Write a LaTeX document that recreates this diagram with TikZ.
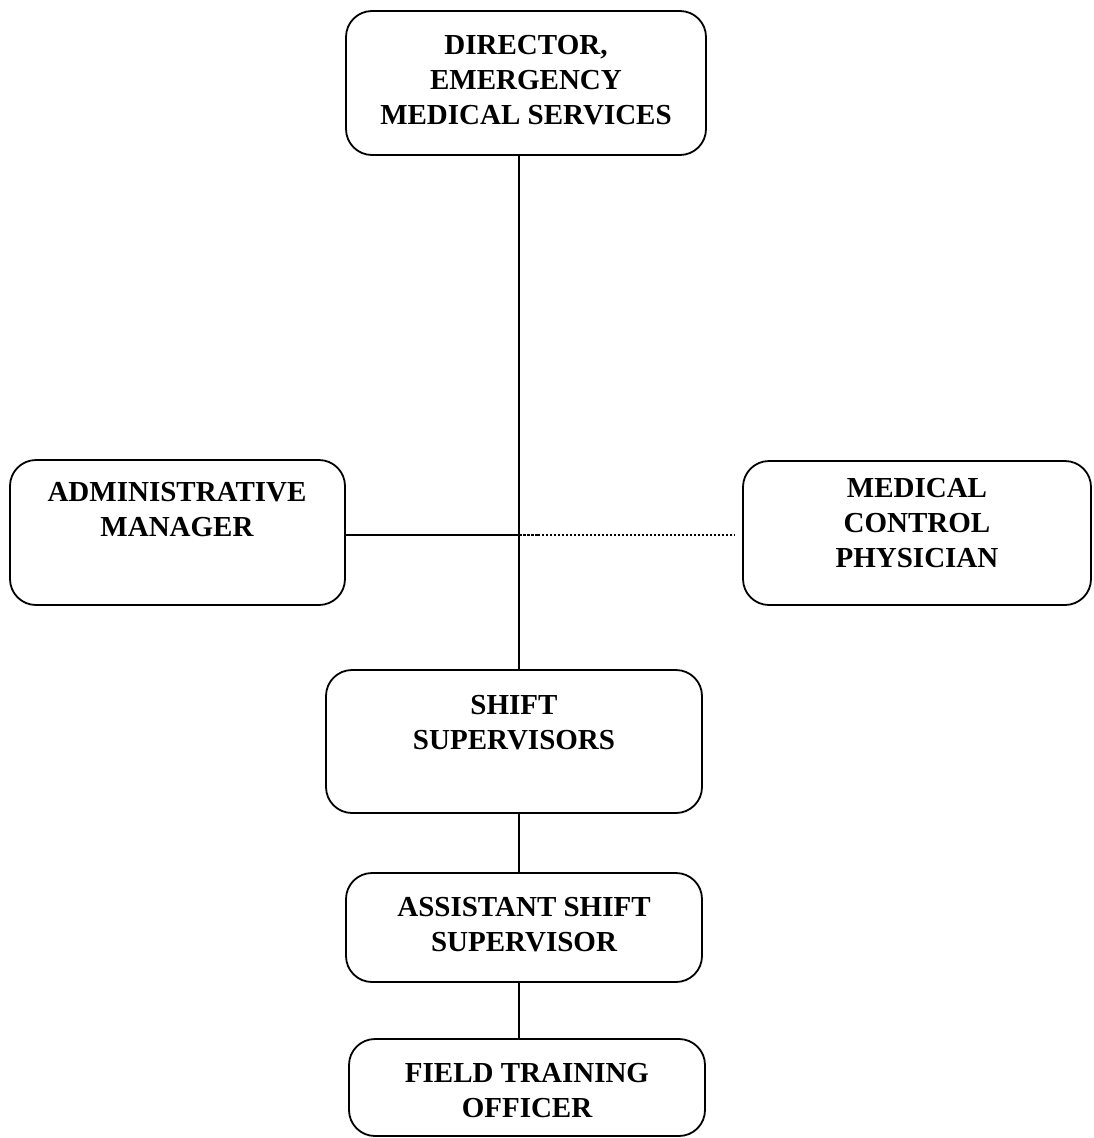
\documentclass[tikz,border=0pt]{standalone}
\usepackage{fontspec}
\setmainfont{Liberation Serif}
\begin{document}
\begin{tikzpicture}[x=1pt,y=-1pt,
  box/.style={draw=black, line width=1.8pt, rounded corners=26pt, inner sep=0pt},
  lbl/.style={anchor=north, inner sep=0pt, align=center, font=\fontsize{29}{35}\selectfont\bfseries},
  conn/.style={draw=black, line width=1.8pt}]
\useasboundingbox (0,0) rectangle (1093,1138);
% boxes
\node[box, minimum width=360pt, minimum height=144pt] (dir) at (526,83) {};
\node[box, minimum width=335pt, minimum height=145pt] (adm) at (177.5,532.5) {};
\node[box, minimum width=348pt, minimum height=144pt] (med) at (917,533) {};
\node[box, minimum width=376pt, minimum height=143pt] (shf) at (514,741.5) {};
\node[box, minimum width=356pt, minimum height=109pt] (ast) at (524,927.5) {};
\node[box, minimum width=356pt, minimum height=97pt] (fto) at (527,1087.5) {};
% labels
\node[lbl] (tdir) at (526,35) {DIRECTOR,\\EMERGENCY\\MEDICAL SERVICES};
\node[lbl] (tadm) at (177,482) {ADMINISTRATIVE\\MANAGER};
\node[lbl] (tmed) at (917,478) {MEDICAL\\CONTROL\\PHYSICIAN};
\node[lbl] (tshf) at (514,695) {SHIFT\\SUPERVISORS};
\node[lbl] (tast) at (524,897) {ASSISTANT SHIFT\\SUPERVISOR};
\node[lbl] (tfto) at (527,1063) {FIELD TRAINING\\OFFICER};
% connectors
\coordinate (j) at (519,535);
\coordinate (dm) at (538,535);
\coordinate (de) at (735,535);
\draw[conn] (dir.south -| j) -- (shf.north -| j);
\draw[conn] (adm.east |- j) -- (j);
\draw[conn, dash pattern=on 3pt off 1pt] (j) -- (dm);
\draw[conn, dash pattern=on 2pt off 2pt] (dm) -- (de);
\draw[conn] (shf.south -| j) -- (ast.north -| j);
\draw[conn] (ast.south -| j) -- (fto.north -| j);
\end{tikzpicture}
\end{document}
